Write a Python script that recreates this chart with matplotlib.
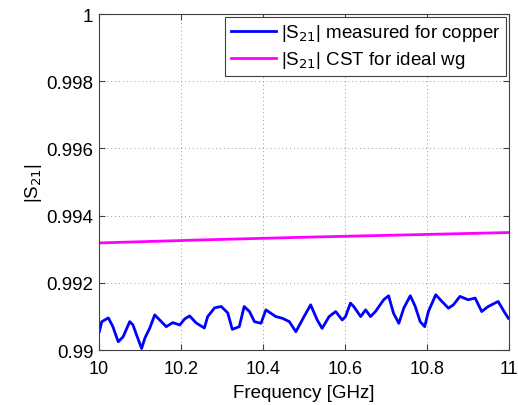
import matplotlib.pyplot as plt

plt.rcParams['font.family'] = ['Liberation Sans', 'DejaVu Sans']

# measured |S21| for the copper waveguide
freq_meas = [10.001, 10.007, 10.023, 10.034, 10.047, 10.059, 10.075, 10.083, 10.090, 10.104,
             10.112, 10.124, 10.136, 10.148, 10.164, 10.180, 10.197, 10.209, 10.221, 10.237,
             10.257, 10.265, 10.282, 10.298, 10.314, 10.325, 10.342, 10.354, 10.367, 10.379,
             10.395, 10.407, 10.431, 10.447, 10.464, 10.480, 10.500, 10.516, 10.532, 10.544,
             10.561, 10.577, 10.593, 10.601, 10.613, 10.621, 10.638, 10.650, 10.662, 10.674,
             10.694, 10.706, 10.718, 10.731, 10.743, 10.759, 10.771, 10.783, 10.794, 10.803,
             10.821, 10.836, 10.852, 10.864, 10.880, 10.900, 10.917, 10.933, 10.949, 10.973,
             10.990, 10.998]
s21_meas = [0.99055, 0.99085, 0.99096, 0.99070, 0.99025, 0.99040, 0.99085, 0.99075, 0.99051, 0.99005,
            0.99036, 0.99066, 0.99105, 0.99090, 0.99070, 0.99082, 0.99075, 0.99093, 0.99102, 0.99081,
            0.99066, 0.99100, 0.99126, 0.99130, 0.99111, 0.99062, 0.99070, 0.99130, 0.99115, 0.99085,
            0.99080, 0.99120, 0.99100, 0.99095, 0.99085, 0.99055, 0.99100, 0.99135, 0.99090, 0.99065,
            0.99100, 0.99115, 0.99090, 0.99100, 0.99140, 0.99130, 0.99100, 0.99120, 0.99100, 0.99115,
            0.99150, 0.99162, 0.99110, 0.99080, 0.99125, 0.99162, 0.99130, 0.99085, 0.99070, 0.99115,
            0.99165, 0.99145, 0.99125, 0.99135, 0.99160, 0.99150, 0.99155, 0.99115, 0.99130, 0.99145,
            0.99110, 0.99095]

# CST simulation, ideal waveguide
freq_cst = [10.0, 10.25, 10.5, 10.75, 11.0]
s21_cst = [0.99319, 0.99328, 0.99336, 0.99343, 0.99350]

xticks = [10, 10.2, 10.4, 10.6, 10.8, 11]
yticks = [0.99, 0.992, 0.994, 0.996, 0.998, 1]
ytick_labels = ['0.99', '0.992', '0.994', '0.996', '0.998', '1']

fig = plt.figure(figsize=(5.18, 4.06), dpi=100)
ax = fig.add_axes([0.191, 0.135, 0.792, 0.828])

ax.plot(freq_meas, s21_meas, color='#0000ff', lw=2, label='|S$_{21}$| measured for copper')
ax.plot(freq_cst, s21_cst, color='#ff00ff', lw=2, label='|S$_{21}$| CST for ideal wg')

ax.set_xlim(10, 11)
ax.set_ylim(0.99, 1)
ax.set_xticks(xticks)
ax.set_xticklabels(['10', '10.2', '10.4', '10.6', '10.8', '11'])
ax.set_yticks(yticks)
ax.set_yticklabels(ytick_labels)
ax.tick_params(direction='in', top=True, right=True, labelsize=13.5, length=4,
               color='#404040')
ax.tick_params(axis='x', pad=7, labelsize=13)
ax.tick_params(axis='y', pad=4)
ax.grid(True, linestyle=(0, (1, 3)), color='#999999', lw=0.7)
for sp in ax.spines.values():
    sp.set_color('#404040')

ax.set_xlabel('Frequency [GHz]', fontsize=13.5, labelpad=5)
ax.set_ylabel('|S$_{21}$|', fontsize=13.5, labelpad=2)

leg = ax.legend(loc='upper right', fontsize=13.5, fancybox=False, framealpha=1,
                edgecolor='#404040', borderaxespad=0.15, handlelength=2.4,
                handletextpad=0.3, borderpad=0.3, labelspacing=0.3)
leg.get_frame().set_linewidth(0.8)

fig.savefig('out.png', dpi=100)
